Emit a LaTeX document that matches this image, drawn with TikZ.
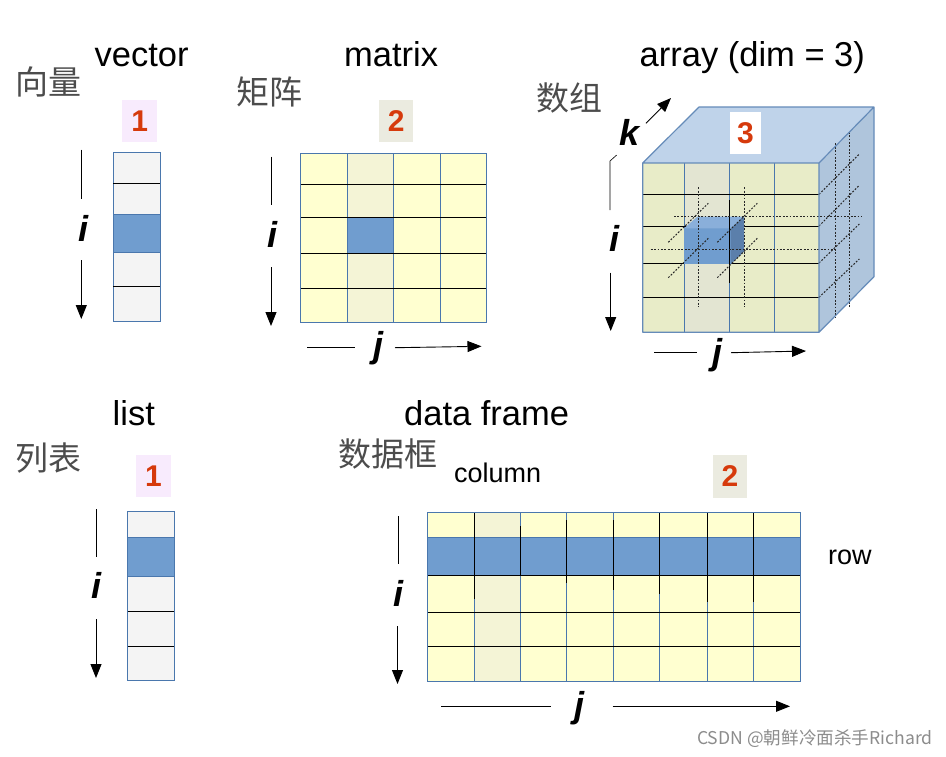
\documentclass[tikz,border=0pt]{standalone}
\usepackage{fontspec}
\setmainfont{Liberation Sans}
\newfontfamily\cjk{Noto Sans CJK SC}
\usetikzlibrary{arrows.meta}
\definecolor{gridblue}{HTML}{4A77AD}
\definecolor{cellblue}{HTML}{709DCF}
\definecolor{cellgrey}{HTML}{F4F4F4}
\definecolor{cellyellow}{HTML}{FFFFD0}
\definecolor{colhi}{HTML}{F4F4D6}
\definecolor{cubefront}{HTML}{E8ECC8}
\definecolor{cubecol}{HTML}{E3E5D2}
\definecolor{cubetop}{HTML}{BFD3EA}
\definecolor{cubeside}{HTML}{AFC5DC}
\definecolor{numred}{HTML}{D63A0C}
\definecolor{badgelilac}{HTML}{F8EBFD}
\definecolor{badgekhaki}{HTML}{EBEBE0}
\definecolor{smalltop}{HTML}{8AAFDA}
\definecolor{smallside}{HTML}{5B7FAB}
\tikzset{
  title/.style={anchor=base west,inner sep=0pt,font=\fontsize{34.5}{36}\selectfont},
  small/.style={anchor=base west,inner sep=0pt,font=\fontsize{27}{30}\selectfont},
  cjklabel/.style={anchor=base west,inner sep=0pt,text=black!70,font=\cjk\fontsize{33}{36}\selectfont},
  idx/.style={inner sep=0pt,font=\fontsize{36}{38}\selectfont\bfseries\itshape},
  badge/.style={inner sep=0pt,text=numred,font=\fontsize{30}{32}\selectfont\bfseries},
  axis/.style={draw=black,line width=.9pt},
  axisarrow/.style={axis,-{Triangle[length=14pt,width=11pt]}},
  vline/.style={draw=gridblue,line width=1pt},
  hline/.style={draw=black,line width=1pt},
  dots/.style={draw=black!85,line width=1pt,dash pattern=on 1.8pt off 1.6pt},
}
\begin{document}
\begin{tikzpicture}[x=1pt,y=-1pt]
\path[use as bounding box,fill=white] (0,0) rectangle (946,756);

% titles
\node[title] (tvector) at (94.5,66) {vector};
\node[title] (tmatrix) at (344,66) {matrix};
\node[title] (tarray) at (639.5,66) {array (dim = 3)};
\node[title] (tlist) at (112.5,425) {list};
\node[title] (tdf) at (404,425) {data frame};
\node[cjklabel] (cvector) at (15.5,94.5) {向量};
\node[cjklabel] (cmatrix) at (236.5,104.5) {矩阵};
\node[cjklabel] (carray) at (536.5,110.5) {数组};
\node[cjklabel] (clist) at (15.5,470.5) {列表};
\node[cjklabel] (cdf) at (338.5,466.5) {数据框};
\node[small] (tcolumn) at (454,482) {column};
\node[small] (trow) at (828,564) {row};

% vector
\fill[cellgrey] (113.3,152.3) rectangle (160,321.3);
\fill[cellblue] (113.3,214.3) rectangle (160,252.3);
\draw[gridblue,line width=1pt] (113.3,152.3) rectangle (160,321.3);
\draw[gridblue,line width=1pt] (113.3,214.3) -- (160,214.3) (113.3,252.3) -- (160,252.3);
\draw[hline] (113.3,183.7) -- (160,183.7) (113.3,286.3) -- (160,286.3);
\node[badge,fill=badgelilac,minimum width=34.7pt,minimum height=42.3pt] (b1) at (139.7,121.2) {1};
\node[idx] (iv) at (83,228) {i};
\coordinate (iva) at (81.3,149.7); \coordinate (ivb) at (81.3,198.7);
\coordinate (ivc) at (81.3,260.3); \coordinate (ivd) at (81.3,319);
\draw[axis] (iva) -- (ivb);
\draw[axisarrow] (ivc) -- (ivd);

% matrix
\fill[cellyellow] (300.7,153.3) rectangle (486.7,322.3);
\fill[colhi] (347.3,153.3) rectangle (393.7,322.3);
\fill[cellblue] (347.3,217.3) rectangle (393.7,253.3);
\foreach \x in {347.3,393.7,440.3} \draw[vline] (\x,153.3) -- (\x,322.3);
\foreach \y in {184.7,217.3,253.3,288.3} \draw[hline] (300.7,\y) -- (486.7,\y);
\draw[gridblue,line width=1pt] (300.7,153.3) rectangle (486.7,322.3);
\node[badge,fill=badgekhaki,minimum width=34.3pt,minimum height=42.3pt] (b2) at (396.2,121.2) {2};
\node[idx] (im) at (272,234) {i};
\coordinate (ima) at (271,156.7); \coordinate (imb) at (271,205.3);
\coordinate (imc) at (271,267.3); \coordinate (imd) at (271,326);
\draw[axis] (ima) -- (imb);
\draw[axisarrow] (imc) -- (imd);
\node[idx] (jm) at (378,348) {j};
\coordinate (jma) at (307.3,347.7); \coordinate (jmb) at (355.3,347.7);
\coordinate (jmc) at (395,347.7); \coordinate (jmd) at (481.5,346.3);
\draw[axis] (jma) -- (jmb);
\draw[axisarrow] (jmc) -- (jmd);

% array cube
\fill[cubetop] (642.7,163) -- (699,107) -- (874,107) -- (819,163) -- cycle;
\fill[cubeside] (819,163) -- (874,107) -- (874,276.7) -- (819,332.3) -- cycle;
\fill[cubefront] (642.7,163) rectangle (819,332.3);
\fill[cubecol] (684,163) rectangle (729.3,332.3);
\foreach \x in {684,729.3,774.3} \draw[vline] (\x,163) -- (\x,332.3);
\foreach \y in {194.3,226,263,297.3} \draw[hline] (642.7,\y) -- (819,\y);
% small cube
\fill[cellblue] (684,228.3) rectangle (730.7,264.3);
\fill[smalltop] (684,228.3) -- (697.3,216.7) -- (744,216.7) -- (730.7,228.3) -- cycle;
\fill[smallside] (730.7,228.3) -- (744,216.7) -- (744,251.7) -- (730.7,264.3) -- cycle;
\draw[hline] (729.3,200) -- (729.3,283.3);
\foreach \x in {698.3,744} \draw[dots] (\x,187.3) -- (\x,306.7);
\draw[dots] (674,216.7) -- (861.7,216.7);
\draw[dots] (650.7,249.7) -- (837.3,249.7);
\draw[dots] (668.3,242.3) -- (708.3,203.3);
\draw[dots] (668.3,277.7) -- (708.3,238.3);
\draw[dots] (717.3,242.3) -- (757.3,203.3);
\draw[dots] (717.3,277.7) -- (757.3,238.3);
\draw[dots] (835.7,143.3) -- (835.7,317.3);
\draw[dots] (849,131.7) -- (849,306.7);
\draw[dots] (819,194.3) -- (859.3,154);
\draw[dots] (819,226) -- (859.3,185.3);
\draw[dots] (819,263) -- (859.3,224);
\draw[dots] (819,297.3) -- (859.3,259);
\draw[gridblue!85!white,line width=1.2pt,line join=round] (642.7,163) -- (699,107) -- (874,107) -- (874,276.7) -- (819,332.3) -- (642.7,332.3) -- cycle (642.7,163) -- (819,163) -- (874,107) (819,163) -- (819,332.3);
\node[badge,fill=white,minimum width=31.4pt,minimum height=42pt] (b3) at (745.5,133) {3};
\node[idx] (ka) at (629.5,132) {k};
\coordinate (kaa) at (646,123.3); \coordinate (kab) at (671,98);
\draw[axisarrow] (kaa) -- (kab);
\node[idx] (ia) at (614,238) {i};
\coordinate (iaa) at (616.7,155); \coordinate (iae) at (610,161); \coordinate (iab) at (610,210);
\coordinate (iac) at (610.7,272.7); \coordinate (iad) at (610.7,331);
\draw[axis,line width=.6pt] (iaa) -- (iae) -- (iab);
\draw[axisarrow] (iac) -- (iad);
\node[idx] (ja) at (717.5,355) {j};
\coordinate (jaa) at (654.3,352.3); \coordinate (jab) at (696.7,352.3);
\coordinate (jac) at (731,352.7); \coordinate (jad) at (806,351);
\draw[axis] (jaa) -- (jab);
\draw[axisarrow] (jac) -- (jad);

% list
\fill[cellgrey] (127.5,511) rectangle (174,680);
\fill[cellblue] (127.5,537) rectangle (174,576);
\draw[gridblue,line width=1pt] (127.5,511) rectangle (174,680);
\draw[gridblue,line width=1pt] (127.5,537) -- (174,537) (127.5,576) -- (174,576);
\draw[hline] (127.5,611) -- (174,611) (127.5,646) -- (174,646);
\node[badge,fill=badgelilac,minimum width=34.7pt,minimum height=42.3pt] (b4) at (153.5,476) {1};
\node[idx] (il) at (96.5,585) {i};
\coordinate (ila) at (96,509); \coordinate (ilb) at (96,557);
\coordinate (ilc) at (96,619); \coordinate (ild) at (96,678);
\draw[axis] (ila) -- (ilb);
\draw[axisarrow] (ilc) -- (ild);

% data frame
\fill[cellyellow] (427.5,512.3) rectangle (800,681.3);
\fill[colhi] (474.3,512.3) rectangle (520.4,681.3);
\foreach \x in {474.3,520.4,566.8,613.2,659.6,707,753.5} \draw[vline] (\x,512.3) -- (\x,681.3);
\fill[cellblue] (427.5,537.3) rectangle (800,575.7);
\draw[gridblue,line width=.8pt] (427.5,537.3) -- (800,537.3);
\draw[hline] (474.3,512.3) -- (474.3,598.7);
\draw[hline] (520.4,526) -- (520.4,576);
\draw[hline] (566.8,520) -- (566.8,583);
\draw[hline] (613.2,520) -- (613.2,590);
\draw[hline] (659.6,512.3) -- (659.6,594);
\draw[hline] (707,512.3) -- (707,602);
\draw[hline] (753.5,512.3) -- (753.5,602);
\foreach \y in {575.7,612.7,646.7} \draw[hline] (427.5,\y) -- (800,\y);
\draw[gridblue,line width=1pt] (427.5,512.3) rectangle (800,681.3);
\node[badge,fill=badgekhaki,minimum width=34pt,minimum height=42.6pt] (b5) at (730,476.5) {2};
\node[idx] (idf) at (398.5,593) {i};
\coordinate (idfa) at (398,516); \coordinate (idfb) at (398,564);
\coordinate (idfc) at (397.5,626); \coordinate (idfd) at (397.5,684);
\draw[axis] (idfa) -- (idfb);
\draw[axisarrow] (idfc) -- (idfd);
\node[idx] (jdf) at (579.5,708) {j};
\coordinate (jdfa) at (441.4,706.3); \coordinate (jdfb) at (551.4,706.3);
\coordinate (jdfc) at (612.5,706.3); \coordinate (jdfd) at (790,706.3);
\draw[axis] (jdfa) -- (jdfb);
\draw[axisarrow] (jdfc) -- (jdfd);

% watermark
\node[anchor=base west,inner sep=0pt,text=black!45,font=\cjk\fontsize{17.6}{20}\selectfont] (wm) at (697,744.5) {CSDN @朝鲜冷面杀手Richard};
\end{tikzpicture}
\end{document}
